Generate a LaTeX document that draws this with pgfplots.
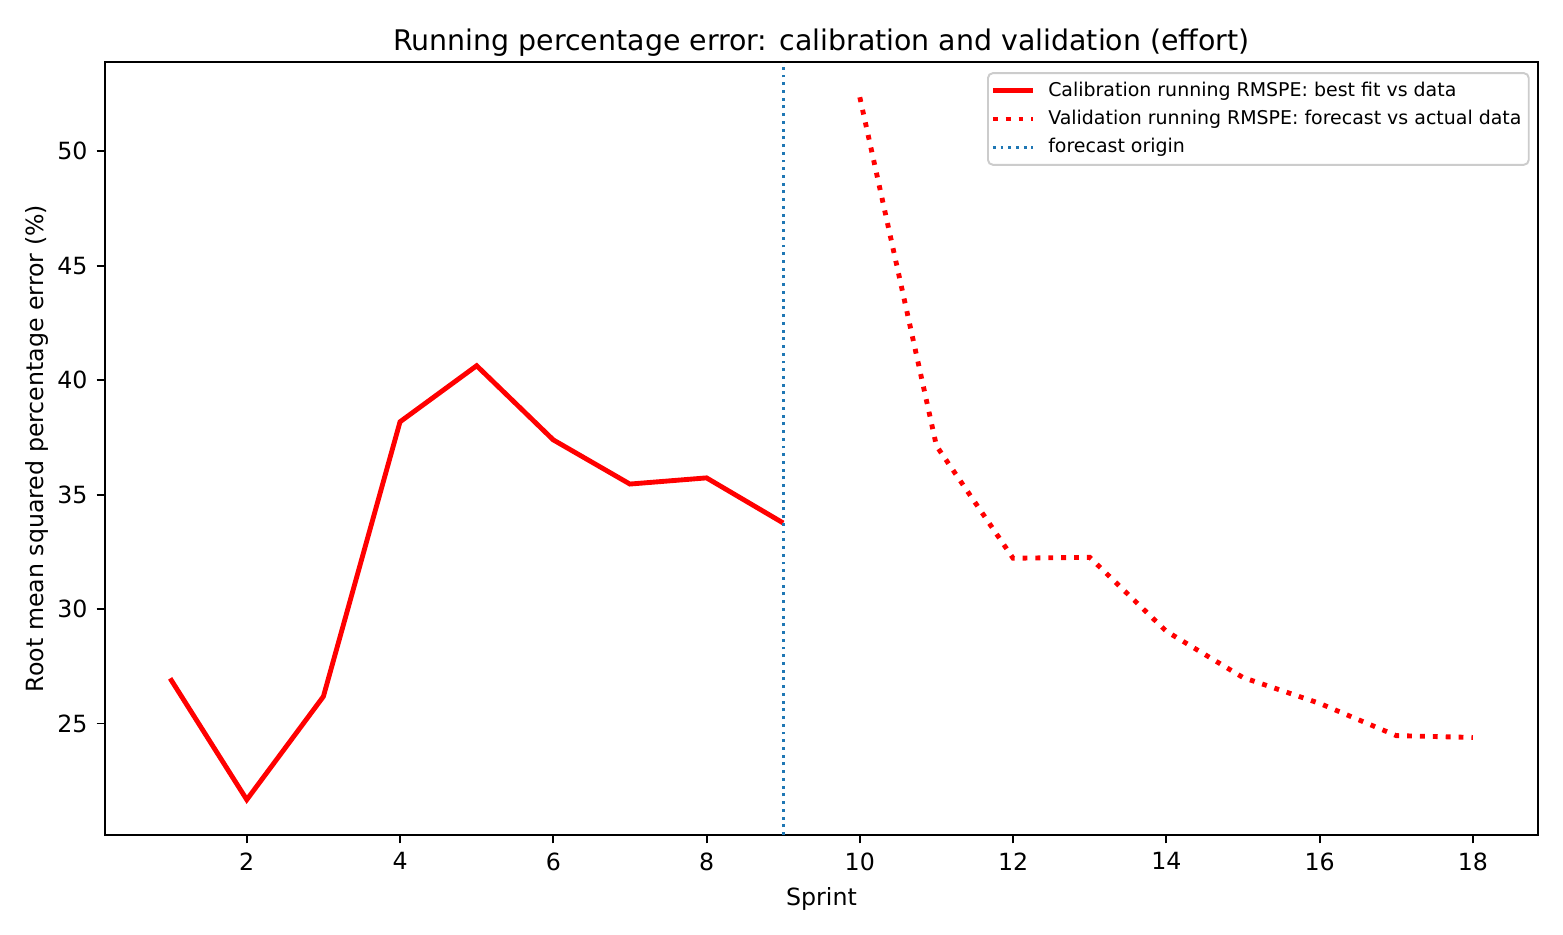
\documentclass[border=0pt]{standalone}
\usepackage{fontspec}
\setmainfont{DejaVu Sans}
\usepackage{pgfplots}
\pgfplotsset{compat=1.18}
\definecolor{mplblue}{HTML}{1F77B4}
\definecolor{mplred}{HTML}{FF0000}
\begin{document}
\begin{tikzpicture}
\useasboundingbox (-43.2pt,-41.0pt) rectangle (599.8pt,343.5pt);
\begin{axis}[
  scale only axis,
  width=589.5pt, height=318pt,
  xmin=0.15, xmax=18.85, ymin=20.13, ymax=53.9,
  xtick={2,4,...,18}, ytick={25,30,...,50},
  xtick pos=left, ytick pos=left,
  tick align=outside, major tick length=3.5pt,
  tick style={black, line width=0.8pt},
  axis line style={line width=0.8pt},
  /pgf/number format/assume math mode=true,
  ticklabel style={font=\fontsize{9.74}{11.7}\selectfont},
  xticklabel style={inner sep=0pt, yshift=-3.5pt},
  yticklabel style={inner sep=0pt, xshift=-3.5pt},
  xlabel={Sprint},
  ylabel={Root mean squared percentage error (\%)},
  label style={font=\fontsize{9.74}{11.7}\selectfont},
  xlabel style={at={(axis description cs:0.5,-0.0834)}, anchor=center},
  ylabel style={at={(axis description cs:-0.0475,0.5)}, anchor=center},
  title={Running percentage error: calibration and validation (effort)},
  title style={font=\fontsize{11.69}{14}\selectfont, at={(axis description cs:0.5,1)}, anchor=base, yshift=-1.3pt},
  legend cell align=left,
  legend style={
    at={(axis description cs:1,1)}, anchor=north east,
    xshift=-3.4pt, yshift=-4.2pt,
    font=\fontsize{7.8}{9.4}\selectfont,
    draw=black!20, line width=0.8pt, rounded corners=2pt,
    fill=white, fill opacity=0.8, text opacity=1,
    inner xsep=1pt, inner ysep=2.5pt,
    row sep=2.4pt,
    nodes={inner ysep=0.6pt, text height=6.3pt, text depth=1.8pt},
  },
  legend image code/.code={\draw[#1] (0pt,0pt) -- (16.5pt,0pt); \path (19.8pt,0pt);},
]
% running RMSPE over the calibration sprints
\addplot[mplred, line width=2pt] coordinates {
  (1,26.97) (2,21.67) (3,26.18) (4,38.18) (5,40.63)
  (6,37.39) (7,35.46) (8,35.73) (9,33.76)
};
\addlegendentry{Calibration running RMSPE: best fit vs data}
% running RMSPE of the forecast over the validation sprints
\addplot[mplred, line width=2pt, dash pattern=on 2pt off 3.3pt] coordinates {
  (10,52.36) (11,37.13) (12,32.22) (13,32.26) (14,29.03)
  (15,27.01) (16,25.88) (17,24.47) (18,24.39)
};
\addlegendentry{Validation running RMSPE: forecast vs actual data}
% forecast origin
\addplot[mplblue, line width=1.2pt, dash pattern=on 1.2pt off 1.98pt] coordinates {
  (9,20.13) (9,53.9)
};
\addlegendentry{forecast origin}
\end{axis}
\end{tikzpicture}
\end{document}
